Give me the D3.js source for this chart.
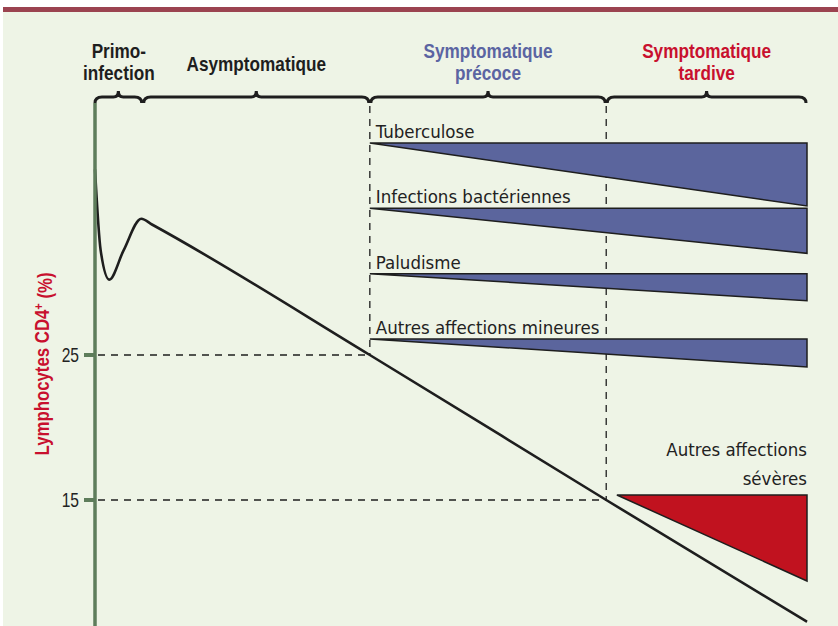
<!DOCTYPE html>
<html>
<head>
<meta charset="utf-8">
<script src="https://cdn.jsdelivr.net/npm/d3@7"></script>
<style>
  body { margin: 0; background: #fff; }
  svg { display: block; }
</style>
</head>
<body>
<div id="chart"></div>
<script>
"use strict";

// phases of the infection (header + braces)
const phases = ["Primo-\ninfection", "Asymptomatique", "Symptomatique\nprécoce", "Symptomatique\ntardive"];
const phaseBounds = [0, 0.67, 3.86, 7.18, 10];

// CD4 curve (time in arbitrary units, value in %)
const cd4Time = [0, 0.08, 0.2, 0.4, 0.65, 0.8, 3.86, 7.18, 10];
const cd4Value = [37.8, 32.2, 30.2, 32.2, 34.4, 34.0, 25, 15, 6.6];

const yTicks = [25, 15];

// opportunistic infections, starting at early symptomatic phase
const infections = ["Tuberculose", "Infections bactériennes", "Paludisme", "Autres affections mineures"];
const infectionEnd = [63, 45, 27, 28];   // relative frequency reached at the end

// severe infections, late phase
const severeName = ["Autres affections", "sévères"];
const severeStart = 7.33;
const severeEnd = 86;

const width = 838, height = 626;

const svg = d3.select("#chart").append("svg")
  .attr("width", width)
  .attr("height", height);

// background + top band
svg.append("rect").attr("x", 3).attr("y", 12).attr("width", width - 3).attr("height", height - 12).attr("fill", "#eef4e6");
svg.append("rect").attr("x", 3).attr("y", 7).attr("width", width - 3).attr("height", 5).attr("fill", "#9b4350");

const x = d3.scaleLinear().domain([0, 10]).range([95, 807]);
const y = d3.scaleLinear().domain([15, 25]).range([500, 355]);
const freq = d3.scaleLinear().domain([0, 100]).range([0, 100]);
const row = d3.scalePoint().domain(infections).range([143, 339]);

const ink = "#1e1e1e";
// no narrow font installed -> squeeze Liberation Sans horizontally
const narrow = "'Liberation Sans', Arial, sans-serif";

// headers
const headColor = ["#1e1e1e", "#1e1e1e", "#5b64a2", "#c8102e"];
phases.forEach((p, i) => {
  const lines = p.split("\n");
  const xm = (x(phaseBounds[i]) + x(phaseBounds[i + 1])) / 2;
  const base = lines.length == 2 ? [58, 80] : [71];
  lines.forEach((l, j) => {
    svg.append("text")
      .attr("transform", `translate(${xm},${base[j]}) scale(0.86,1)`)
      .attr("text-anchor", "middle")
      .style("font", "bold 20px " + narrow)
      .attr("fill", headColor[i])
      .text(l);
  });
});

// curly braces
function brace(x1, x2, y0) {
  const xm = (x1 + x2) / 2;
  return `M${x1},${y0 + 6} Q${x1},${y0} ${x1 + 7},${y0} L${xm - 5},${y0} Q${xm},${y0} ${xm},${y0 - 6}` +
         ` Q${xm},${y0} ${xm + 5},${y0} L${x2 - 7},${y0} Q${x2},${y0} ${x2},${y0 + 6}`;
}
svg.append("g")
  .selectAll("path")
  .data(d3.range(phases.length))
  .join("path")
    .attr("d", i => brace(x(phaseBounds[i]) + (i ? 1 : 0), x(phaseBounds[i + 1]) - 1, 97))
    .attr("fill", "none")
    .attr("stroke", ink)
    .attr("stroke-width", 3);

// dashed guides
const guides = svg.append("g")
  .attr("stroke", ink)
  .attr("stroke-width", 1.3)
  .attr("stroke-dasharray", "7,6")
  .attr("fill", "none");
[2, 3].forEach((b, k) => {
  guides.append("line")
    .attr("x1", x(phaseBounds[b])).attr("x2", x(phaseBounds[b]))
    .attr("y1", 106).attr("y2", y(yTicks[k]));
  guides.append("line")
    .attr("x1", x(0) + 3).attr("x2", x(phaseBounds[b]))
    .attr("y1", y(yTicks[k])).attr("y2", y(yTicks[k]));
});

// infection wedges
const wedge = svg.append("g");
infections.forEach((name, i) => {
  const top = row(name);
  const x0 = x(phaseBounds[2]), x1 = x(10);
  wedge.append("path")
    .attr("d", `M${x0},${top} L${x1},${top} L${x1},${top + freq(infectionEnd[i])} Z`)
    .attr("fill", "#5b659d")
    .attr("stroke", ink)
    .attr("stroke-width", 1.5);
  wedge.append("text")
    .attr("x", x0 + 6)
    .attr("y", top - 5)
    .style("font", "18.5px 'DejaVu Sans Condensed', sans-serif")
    .attr("fill", "#222")
    .text(name);
});

// severe wedge
const sTop = y(yTicks[1]) - 5;
wedge.append("path")
  .attr("d", `M${x(severeStart)},${sTop} L${x(10)},${sTop} L${x(10)},${sTop + freq(severeEnd)} Z`)
  .attr("fill", "#c1121f")
  .attr("stroke", ink)
  .attr("stroke-width", 1.5);
severeName.forEach((l, j) => {
  wedge.append("text")
    .attr("x", x(10))
    .attr("y", sTop + (j ? -10 : -39))
    .attr("text-anchor", "end")
    .style("font", "18.5px 'DejaVu Sans Condensed', sans-serif")
    .attr("fill", "#222")
    .text(l);
});

// CD4 curve
const line = d3.line()
  .x(d => x(d[0]))
  .y(d => y(d[1]))
  .curve(d3.curveMonotoneX);
svg.append("path")
  .datum(cd4Time.map((t, i) => [t, cd4Value[i]]))
  .attr("d", line)
  .attr("fill", "none")
  .attr("stroke", ink)
  .attr("stroke-width", 2.6);

// y axis
const axisColor = "#5e7d5b";
svg.append("line")
  .attr("x1", x(0)).attr("x2", x(0))
  .attr("y1", 103).attr("y2", height)
  .attr("stroke", axisColor)
  .attr("stroke-width", 3.5);
yTicks.forEach(t => {
  svg.append("line")
    .attr("x1", 84).attr("x2", x(0))
    .attr("y1", y(t)).attr("y2", y(t))
    .attr("stroke", axisColor)
    .attr("stroke-width", 4);
  svg.append("text")
    .attr("transform", `translate(79,${y(t)}) scale(0.78,1)`)
    .attr("dy", "0.36em")
    .attr("text-anchor", "end")
    .style("font", "20px " + narrow)
    .attr("fill", "#222")
    .text(t);
});

const ylab = svg.append("text")
  .attr("transform", "translate(49,364) rotate(-90) scale(0.84,1)")
  .attr("text-anchor", "middle")
  .style("font", "bold 20px " + narrow)
  .attr("fill", "#c8102e");
ylab.append("tspan").text("Lymphocytes CD4");
ylab.append("tspan").attr("dy", "-0.45em").style("font-size", "13px").text("+");
ylab.append("tspan").attr("dy", "0.45em").text(" (%)");
</script>
</body>
</html>
